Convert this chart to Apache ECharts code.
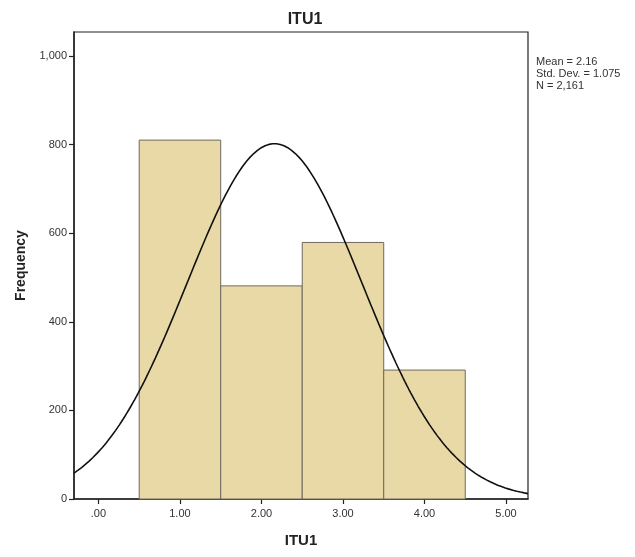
<!DOCTYPE html>
<html>
<head>
<meta charset="utf-8">
<script src="https://cdn.jsdelivr.net/npm/echarts@6/dist/echarts.min.js"></script>
<style>
  html, body { margin: 0; padding: 0; background: #fff; }
  #chart { width: 635px; height: 557px; }
</style>
</head>
<body>
<div id="chart"></div>
<script>
// Histogram of ITU1 responses with a fitted normal curve
const binCenters = [1, 2, 3, 4];
const binCounts = [810, 481, 579, 291];
const xTicks = [0, 1, 2, 3, 4, 5];
const yTicks = [0, 200, 400, 600, 800, 1000];
const statMean = 2.16;
const statSd = 1.075;
const statN = 2161;
const binWidth = 1;

// Normal density scaled to counts, from the summary statistics
const curve = [];
for (let i = 0; i <= 240; i++) {
  const x = -0.3 + (5.27 + 0.3) * i / 240;
  const z = (x - statMean) / statSd;
  const y = statN * binWidth / (statSd * Math.sqrt(2 * Math.PI)) * Math.exp(-0.5 * z * z);
  curve.push([x, y]);
}

const font = '"Liberation Sans", Arial, sans-serif';
const chart = echarts.init(document.getElementById('chart'), null, { renderer: 'canvas' });

chart.setOption({
  animation: false,
  backgroundColor: '#ffffff',
  title: {
    text: 'ITU1',
    left: 300, top: 7, textAlign: 'center',
    textStyle: { fontFamily: font, fontSize: 16, fontWeight: 'bold', color: '#222' }
  },
  graphic: [{
    type: 'text', left: 536, top: 56,
    style: {
      text: 'Mean = ' + statMean.toFixed(2) + '\nStd. Dev. = ' + statSd.toFixed(3) + '\nN = ' + statN.toLocaleString('en-US'),
      font: '11px ' + font, fill: '#333', lineHeight: 12
    }
  }],
  grid: {
    left: 74, right: 107, top: 32, bottom: 58,
    show: true, borderColor: '#222', borderWidth: 1.2, backgroundColor: '#fff'
  },
  xAxis: {
    type: 'value', min: -0.3, max: 5.27,
    name: 'ITU1', nameLocation: 'middle', nameGap: 34,
    nameTextStyle: { fontFamily: font, fontSize: 15, fontWeight: 'bold', color: '#222' },
    axisLine: { show: true, onZero: false, lineStyle: { color: '#222', width: 1.5 } },
    axisTick: { show: true, inside: false, length: 5, customValues: xTicks, lineStyle: { color: '#222', width: 1.2 } },
    axisLabel: {
      customValues: xTicks, margin: 9,
      fontFamily: font, fontSize: 11, color: '#333',
      formatter: v => v === 0 ? '.00' : v.toFixed(2)
    },
    splitLine: { show: false }
  },
  yAxis: {
    type: 'value', min: 0, max: 1054,
    name: 'Frequency', nameLocation: 'middle', nameGap: 46, nameRotate: 90,
    nameTextStyle: { fontFamily: font, fontSize: 14, fontWeight: 'bold', color: '#222' },
    axisLine: { show: true, onZero: false, lineStyle: { color: '#222', width: 1.5 } },
    axisTick: { show: true, inside: false, length: 5, customValues: yTicks, lineStyle: { color: '#222', width: 1.2 } },
    axisLabel: {
      customValues: yTicks, margin: 7,
      fontFamily: font, fontSize: 11, color: '#333',
      formatter: v => v.toLocaleString('en-US')
    },
    splitLine: { show: false }
  },
  series: [
    {
      type: 'custom',
      data: binCenters.map((c, i) => [c, binCounts[i]]),
      renderItem: (params, api) => {
        const c = api.value(0), h = api.value(1);
        const p0 = api.coord([c - binWidth / 2, h]);
        const p1 = api.coord([c + binWidth / 2, 0]);
        return {
          type: 'rect',
          shape: { x: p0[0], y: p0[1], width: p1[0] - p0[0], height: p1[1] - p0[1] },
          style: { fill: '#e8d9a6', stroke: '#6e6a5c', lineWidth: 1 }
        };
      },
      z: 2
    },
    {
      type: 'line',
      data: curve,
      showSymbol: false,
      smooth: false,
      lineStyle: { color: '#111', width: 1.6 },
      z: 3
    }
  ]
});
</script>
</body>
</html>
